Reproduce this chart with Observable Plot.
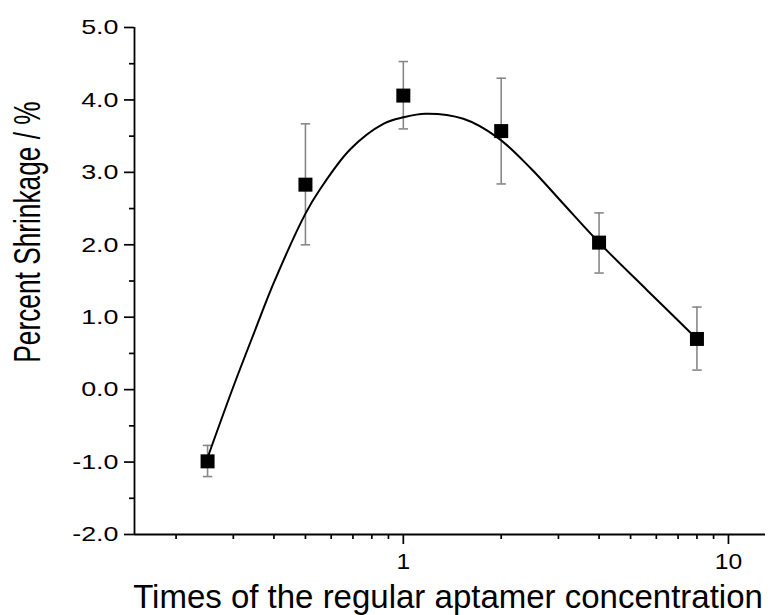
<!DOCTYPE html>
<html>
<head>
<meta charset="utf-8">
<script src="https://cdn.jsdelivr.net/npm/d3@7"></script>
<script src="https://cdn.jsdelivr.net/npm/@observablehq/plot@0.6"></script>
<style>
  html, body { margin: 0; padding: 0; background: #fff; }
  #chart { width: 781px; height: 615px; }
</style>
</head>
<body>
<div id="chart"></div>
<script>
// Measured points (times of regular concentration vs % shrinkage)
const concentrations = [0.25, 0.5, 1, 2, 4, 8];
const shrinkage = [-0.99, 2.83, 4.06, 3.57, 2.03, 0.70];
const errHigh = [-0.77, 3.67, 4.53, 4.30, 2.44, 1.14];
const errLow = [-1.20, 2.00, 3.60, 2.84, 1.61, 0.27];

// Fitted curve
const fitX = [0.25, 0.3, 0.35, 0.4, 0.5, 0.555, 0.687, 0.868, 1.0, 1.17, 1.53, 1.95, 2.46, 3.1, 4.0, 5.63, 8.0];
const fitY = [-0.94, 0.04, 0.82, 1.48, 2.43, 2.77, 3.32, 3.67, 3.76, 3.81, 3.74, 3.48, 3.06, 2.57, 2.03, 1.37, 0.70];

// Axis ticks
const yMajor = [-2, -1, 0, 1, 2, 3, 4, 5];
const yMinor = [-1.5, -0.5, 0.5, 1.5, 2.5, 3.5, 4.5];
const xMajor = [1, 10];
const xMinor = [0.2, 0.3, 0.4, 0.5, 0.6, 0.7, 0.8, 0.9, 2, 3, 4, 5, 6, 7, 8, 9];

const xTitle = "Times of the regular aptamer concentration";
const yTitle = "Percent Shrinkage / %";

const points = concentrations.map((x, i) => ({x, y: shrinkage[i], hi: errHigh[i], lo: errLow[i]}));
const fit = fitX.map((x, i) => ({x, y: fitY[i]}));

const capSymbol = {
  draw(context, size) {
    const w = Math.sqrt(size / Math.PI);
    context.moveTo(-w, 0);
    context.lineTo(w, 0);
  }
};

const xDomain = [0.149, 13];
const yDomain = [-2, 5];

const chart = Plot.plot({
  width: 781,
  height: 615,
  marginLeft: 134,
  marginRight: 16,
  marginTop: 27,
  marginBottom: 81,
  style: {fontFamily: "'Liberation Sans', Arial, sans-serif", background: "#fff", color: "#000", fontSize: "21px"},
  x: {type: "log", domain: xDomain},
  y: {domain: yDomain},
  marks: [
    Plot.axisY({ticks: yMajor, tickSize: 10, tickPadding: 6, tickFormat: d => d.toFixed(1), strokeWidth: 1.7, label: null}),
    Plot.axisY({ticks: yMinor, tickSize: 5, tickFormat: () => "", strokeWidth: 1.7, label: null}),
    Plot.axisX({ticks: xMajor, tickSize: 10, tickPadding: 9, tickFormat: d => String(d), strokeWidth: 1.7, label: null}),
    Plot.axisX({ticks: xMinor, tickSize: 5, tickFormat: () => "", strokeWidth: 1.7, label: null}),
    Plot.ruleX([xDomain[0]], {stroke: "#000", strokeWidth: 1.8}),
    Plot.ruleY([yDomain[0]], {stroke: "#000", strokeWidth: 1.8}),
    Plot.ruleX(points, {x: "x", y1: "lo", y2: "hi", stroke: "#888", strokeWidth: 1.6}),
    Plot.dot(points, {x: "x", y: "hi", symbol: capSymbol, r: 4.7, stroke: "#888", strokeWidth: 1.6, fill: "none"}),
    Plot.dot(points, {x: "x", y: "lo", symbol: capSymbol, r: 4.7, stroke: "#888", strokeWidth: 1.6, fill: "none"}),
    Plot.line(fit, {x: "x", y: "y", curve: "catmull-rom", stroke: "#000", strokeWidth: 2}),
    Plot.dot(points, {x: "x", y: "y", symbol: "square", r: 7.9, fill: "#000", stroke: "none"}),
    Plot.text([yTitle], {text: d => d, frameAnchor: "left", rotate: -90, dx: -106, dy: -49, textAnchor: "middle", lineAnchor: "middle", fontSize: 36, fill: "#000", className: "ytitle"}),
    Plot.text([xTitle], {text: d => d, frameAnchor: "bottom", dx: -2, dy: 63, textAnchor: "middle", lineAnchor: "middle", fontSize: 33, fill: "#000"})
  ]
});
document.getElementById("chart").appendChild(chart);

// Match the reference's text sizes and proportions
const svg = d3.select(chart);
function appendScale(node, s) {
  const t = node.getAttribute("transform") || "";
  node.setAttribute("transform", (t + " " + s).trim());
}
svg.selectAll("g[aria-label='y-axis tick label'] text").each(function () {
  this.style.fontSize = "21px";
  appendScale(this, "scale(1.28,1)");
});
svg.selectAll("g[aria-label='x-axis tick label'] text").each(function () {
  this.style.fontSize = "22px";
  appendScale(this, "scale(1.12,1)");
});
svg.selectAll(".ytitle text").each(function () {
  appendScale(this, "scale(0.73,1)");
});
</script>
</body>
</html>
